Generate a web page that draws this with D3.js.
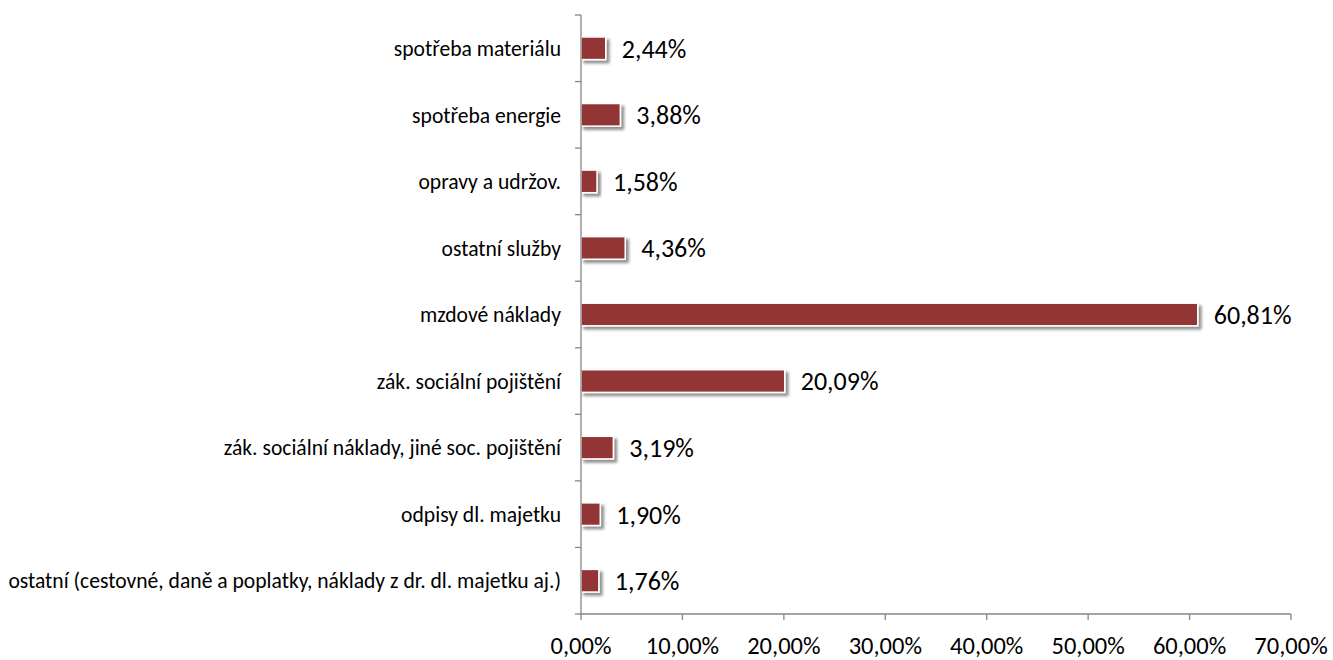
<!DOCTYPE html>
<html><head><meta charset="utf-8">
<script src="https://cdn.jsdelivr.net/npm/d3@7"></script>
<style>body{margin:0;background:#fff}svg{display:block}</style>
</head><body>
<svg id="c" width="1333" height="660"></svg>
<script>
const categories = ["spotřeba materiálu","spotřeba energie","opravy a udržov.","ostatní služby","mzdové náklady ","zák. sociální pojištění","zák. sociální náklady, jiné soc. pojištění","odpisy dl. majetku","ostatní (cestovné, daně a poplatky, náklady z dr. dl. majetku aj.)"];
const values = [2.44,3.88,1.58,4.36,60.81,20.09,3.19,1.90,1.76];
const xTicks = [0,10,20,30,40,50,60,70];

const svg = d3.select("#c");
const font = "Carlito, Lato, 'Open Sans', sans-serif";
const defs = svg.append("defs");
const f = defs.append("filter").attr("id","sh").attr("x","-20%").attr("y","-50%").attr("width","150%").attr("height","220%");
f.append("feGaussianBlur").attr("in","SourceAlpha").attr("stdDeviation",1.8);
f.append("feOffset").attr("dx",2.5).attr("dy",2.5).attr("result","b");
f.append("feComponentTransfer").append("feFuncA").attr("type","linear").attr("slope",0.45);
const m = f.append("feMerge"); m.append("feMergeNode"); m.append("feMergeNode").attr("in","SourceGraphic");

const x = d3.scaleLinear().domain([0,70]).range([581,1291]);
const y = d3.scaleBand().domain(categories).range([15,614]).paddingInner(0.66).paddingOuter(0.33);
const fmt = v => v.toFixed(2).replace(".",",") + "%";

// bars
svg.append("g").selectAll("rect").data(values).join("rect")
  .attr("x", x(0)).attr("y",(d,i)=>y(categories[i]))
  .attr("width", d=>x(d)-x(0)).attr("height", y.bandwidth())
  .attr("fill","#943634").attr("stroke","#fff").attr("stroke-width",1.5)
  .attr("filter","url(#sh)");

// value labels
svg.append("g").selectAll("text").data(values).join("text")
  .attr("x", d=>x(d)+16).attr("y",(d,i)=>y(categories[i])+y.bandwidth()/2)
  .attr("dy","0.36em").attr("font-family",font).attr("font-size",26).attr("fill","#000")
  .text(fmt);

// y axis
const gy = svg.append("g").attr("transform",`translate(${x(0)},0)`);
const step = (614-15)/categories.length;
gy.append("line").attr("x1",0).attr("x2",0).attr("y1",15).attr("y2",614).attr("stroke","#868686").attr("stroke-width",1.3);
gy.selectAll("line.t").data(d3.range(categories.length+1)).join("line").attr("class","t")
  .attr("x1",-6).attr("x2",0).attr("y1",i=>15+i*step).attr("y2",i=>15+i*step).attr("stroke","#868686").attr("stroke-width",1.3);
gy.selectAll("text").data(categories).join("text")
  .attr("x",-20).attr("y",d=>y(d)+y.bandwidth()/2).attr("dy","0.36em").attr("text-anchor","end")
  .attr("font-family",font).attr("font-size",21.6).attr("fill","#000").text(d=>d);

// x axis
const gx = svg.append("g").attr("transform","translate(0,614)");
gx.append("line").attr("x1",x(0)).attr("x2",x(70)).attr("y1",0).attr("y2",0).attr("stroke","#868686").attr("stroke-width",1.3);
gx.selectAll("line.t").data(xTicks).join("line").attr("class","t")
  .attr("x1",d=>x(d)).attr("x2",d=>x(d)).attr("y1",0).attr("y2",6).attr("stroke","#868686").attr("stroke-width",1.3);
gx.selectAll("text").data(xTicks).join("text")
  .attr("x",d=>x(d)).attr("y",31).attr("dy","0.36em").attr("text-anchor","middle")
  .attr("font-family",font).attr("font-size",24.5).attr("fill","#000").text(fmt);
</script>
</body></html>
